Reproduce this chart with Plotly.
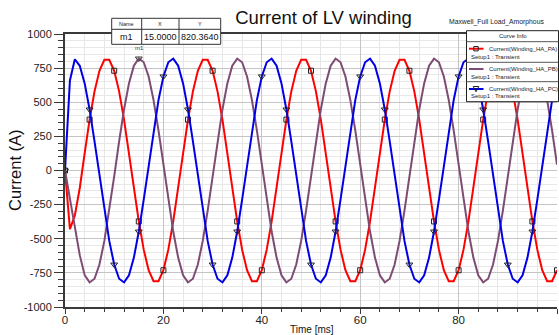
import plotly.graph_objects as go

# ---------------- data ----------------
time_ms = list(range(0, 101))  # 1 ms time step

current_pa = [
    0, -430, -330, -128, 128, 373, 580, 731, 811, 811, 731, 580, 373, 128, -128, -373, -580, -731, -811, -811,
    -731, -580, -373, -128, 128, 373, 580, 731, 811, 811, 731, 580, 373, 128, -128, -373, -580, -731, -811, -811,
    -731, -580, -373, -128, 128, 373, 580, 731, 811, 811, 731, 580, 373, 128, -128, -373, -580, -731, -811, -811,
    -731, -580, -373, -128, 128, 373, 580, 731, 811, 811, 731, 580, 373, 128, -128, -373, -580, -731, -811, -811,
    -731, -580, -373, -128, 128, 373, 580, 731, 811, 811, 731, 580, 373, 128, -128, -373, -580, -731, -811, -811,
    -731,
]

current_pb = [
    0, -200, -430, -620, -767, -820, -793, -689, -516, -294, -43, 213, 447, 638, 767, 820.364, 793, 689, 516, 294,
    43, -213, -447, -638, -767, -820, -793, -689, -516, -294, -43, 213, 447, 638, 767, 820, 793, 689, 516, 294,
    43, -213, -447, -638, -767, -820, -793, -689, -516, -294, -43, 213, 447, 638, 767, 820, 793, 689, 516, 294,
    43, -213, -447, -638, -767, -820, -793, -689, -516, -294, -43, 213, 447, 638, 767, 820, 793, 689, 516, 294,
    43, -213, -447, -638, -767, -820, -793, -689, -516, -294, -43, 213, 447, 638, 767, 820, 793, 689, 516, 294,
    43,
]

current_pc = [
    0, 660, 815, 767, 638, 447, 213, -43, -294, -516, -689, -793, -820, -767, -638, -447, -213, 43, 294, 516,
    689, 793, 820, 767, 638, 447, 213, -43, -294, -516, -689, -793, -820, -767, -638, -447, -213, 43, 294, 516,
    689, 793, 820, 767, 638, 447, 213, -43, -294, -516, -689, -793, -820, -767, -638, -447, -213, 43, 294, 516,
    689, 793, 820, 767, 638, 447, 213, -43, -294, -516, -689, -793, -820, -767, -638, -447, -213, 43, 294, 516,
    689, 793, 820, 767, 638, 447, 213, -43, -294, -516, -689, -793, -820, -767, -638, -447, -213, 43, 294, 516,
    689,
]

curve_names = ["Current(Winding_HA_PA)", "Current(Winding_HA_PB)", "Current(Winding_HA_PC)"]
setup_label = "Setup1 : Transient"

marker_name = "m1"
marker_x = 15.0
marker_y = 820.364

x_ticks = [0, 20, 40, 60, 80, 100]
y_ticks = [-1000, -750, -500, -250, 0, 250, 500, 750, 1000]

# ---------------- styling ----------------
RED = "#ff0000"
PURPLE = "#7d4b73"
BLUE = "#0000e6"
AXIS = "#3a3a3a"
FONT = "Liberation Sans, Arial, sans-serif"
SMALL = "Liberation Sans, Arial, sans-serif"

W, H = 559, 335
ML, MR, MT, MB = 65, 2, 34, 28
PW, PH = W - ML - MR, H - MT - MB


def xp(px):
    return (px - ML) / PW


def yp(py):
    return (H - MB - py) / PH


every5_size_sq = [5 if i % 5 == 0 else 0 for i in range(len(time_ms))]
every5_size_tri = [6 if i % 5 == 0 else 0 for i in range(len(time_ms))]
every5_op = [1 if i % 5 == 0 else 0 for i in range(len(time_ms))]

fig = go.Figure()
fig.add_trace(go.Scatter(
    x=time_ms, y=current_pa, mode="lines+markers", name=curve_names[0],
    line=dict(color=RED, width=2),
    marker=dict(symbol="square-open", color="#222222", size=every5_size_sq,
                opacity=every5_op, line=dict(width=1, color="#222222")),
))
fig.add_trace(go.Scatter(
    x=time_ms, y=current_pb, mode="lines", name=curve_names[1],
    line=dict(color=PURPLE, width=2),
))
fig.add_trace(go.Scatter(
    x=time_ms, y=current_pc, mode="lines+markers", name=curve_names[2],
    line=dict(color=BLUE, width=2),
    marker=dict(symbol="triangle-down-open", color="#222222", size=every5_size_tri,
                opacity=every5_op, line=dict(width=1, color="#222222")),
))
fig.add_trace(go.Scatter(
    x=[marker_x], y=[marker_y], mode="markers", name=marker_name,
    marker=dict(symbol="triangle-down-open", color="#333333", size=6, line=dict(width=1)),
))

shapes = []
annotations = []

# marker table
tx0, tx1, tx2, tx3 = 111.7, 141.7, 179.0, 220.7
ty0, ty1, ty2 = 18.3, 29.3, 44.3
shapes.append(dict(type="rect", xref="paper", yref="paper", x0=xp(tx0), x1=xp(tx3), y0=yp(ty2), y1=yp(ty0),
                   line=dict(color="#333333", width=1), fillcolor="white", layer="above"))
for xx in (tx1, tx2):
    shapes.append(dict(type="line", xref="paper", yref="paper", x0=xp(xx), x1=xp(xx), y0=yp(ty2), y1=yp(ty0),
                       line=dict(color="#333333", width=1), layer="above"))
shapes.append(dict(type="line", xref="paper", yref="paper", x0=xp(tx0), x1=xp(tx3), y0=yp(ty1), y1=yp(ty1),
                   line=dict(color="#333333", width=1), layer="above"))
for txt, cx in (("Name", 126.7), ("X", 160.4), ("Y", 199.8)):
    annotations.append(dict(text=txt, x=xp(cx), y=yp(24.0), xref="paper", yref="paper", showarrow=False,
                            font=dict(family=SMALL, size=5.5, color="#222222"), xanchor="center", yanchor="middle"))
for txt, cx in ((marker_name, 126.7), (f"{marker_x:.4f}", 160.4), (f"{marker_y:.4f}", 199.8)):
    annotations.append(dict(text=txt, x=xp(cx), y=yp(37.3), xref="paper", yref="paper", showarrow=False,
                            font=dict(family=FONT, size=9, color="#111111"), xanchor="center", yanchor="middle"))

# m1 label
annotations.append(dict(text=marker_name, x=marker_x, y=marker_y, xref="x", yref="y", showarrow=False,
                        yshift=11, xshift=1, font=dict(family=SMALL, size=6, color="#333333")))

# Legend (Curve Info)
lx0, lx1 = 466.5, 558.5
ly0, ly1 = 30.7, 101.7
shapes.append(dict(type="rect", xref="paper", yref="paper", x0=xp(lx0), x1=xp(lx1), y0=yp(ly1), y1=yp(ly0),
                   line=dict(color="#222222", width=1), fillcolor="white", layer="above"))
for sy in (41.7, 62.3, 81.7):
    shapes.append(dict(type="line", xref="paper", yref="paper", x0=xp(lx0), x1=xp(lx1), y0=yp(sy), y1=yp(sy),
                       line=dict(color="#555555", width=1), layer="above"))
annotations.append(dict(text="Curve Info", x=xp(513), y=yp(36.3), xref="paper", yref="paper", showarrow=False,
                        font=dict(family=SMALL, size=6, color="#222222"), xanchor="center", yanchor="middle"))
entry_y = [48.7, 69.0, 89.0]
setup_y = [56.7, 76.5, 96.0]
colors = [RED, PURPLE, BLUE]
for i in range(3):
    yy = entry_y[i]
    shapes.append(dict(type="line", xref="paper", yref="paper", x0=xp(469), x1=xp(483.5), y0=yp(yy), y1=yp(yy),
                       line=dict(color=colors[i], width=2), layer="above"))
    annotations.append(dict(text=curve_names[i], x=xp(487.0), y=yp(yy), xref="paper", yref="paper",
                            showarrow=False, xanchor="left", yanchor="middle",
                            font=dict(family=SMALL, size=6, color="#222222")))
    annotations.append(dict(text=setup_label, x=xp(468.5), y=yp(setup_y[i]), xref="paper", yref="paper",
                            showarrow=False, xanchor="left", yanchor="middle",
                            font=dict(family=SMALL, size=6, color="#222222")))
# legend symbols
shapes.append(dict(type="rect", xref="paper", yref="paper", x0=xp(473.8), x1=xp(478.2),
                   y0=yp(entry_y[0] + 2.2), y1=yp(entry_y[0] - 2.2),
                   line=dict(color="#222222", width=1), layer="above"))
ty = entry_y[2]
shapes.append(dict(type="path", xref="paper", yref="paper",
                   path=f"M {xp(473.2)},{yp(ty - 2.5)} L {xp(478.8)},{yp(ty - 2.5)} L {xp(476)},{yp(ty + 2.8)} Z",
                   line=dict(color="#222222", width=1), layer="above"))

# Title texts
annotations.append(dict(text="Maxwell_Full Load_Amorphous", x=xp(496.5), y=yp(22.3), xref="paper", yref="paper",
                        showarrow=False, xanchor="center", yanchor="middle",
                        font=dict(family=SMALL, size=6.8, color="#222222")))
annotations.append(dict(text="Current (A)", x=xp(15), y=yp(170), xref="paper", yref="paper", showarrow=False,
                        textangle=-90, xanchor="center", yanchor="middle",
                        font=dict(family=FONT, size=16.5, color="#111111")))
annotations.append(dict(text="Time [ms]", x=xp(311.7), y=yp(329), xref="paper", yref="paper", showarrow=False,
                        xanchor="center", yanchor="middle",
                        font=dict(family=FONT, size=10, color="#111111")))

fig.update_layout(
    width=W, height=H,
    margin=dict(l=ML, r=MR, t=MT, b=MB),
    paper_bgcolor="white", plot_bgcolor="white",
    showlegend=False,
    title=dict(text="Current of LV winding", x=323.5 / W, xref="container", xanchor="center",
               y=1 - 18 / H, yref="container", yanchor="middle",
               font=dict(family=FONT, size=18.5, color="#111111")),
    shapes=shapes, annotations=annotations,
    font=dict(family=FONT, color="#222222"),
)
fig.update_xaxes(
    range=[0, 100], tickvals=x_ticks, ticktext=[str(v) for v in x_ticks],
    showgrid=True, gridcolor="#c4c4c4", gridwidth=1, zeroline=False,
    showline=True, linecolor=AXIS, linewidth=2, mirror=True,
    ticks="outside", ticklen=5, tickcolor=AXIS, tickwidth=1,
    ticklabelstandoff=-4,
    tickfont=dict(family=FONT, size=11.5, color="#222222"),
    minor=dict(dtick=4, tick0=0, showgrid=True, gridcolor="#e6e6e6", ticks="outside", ticklen=3, tickcolor=AXIS),
)
fig.update_yaxes(
    range=[-1000, 1000], tickvals=y_ticks, ticktext=[str(v) for v in y_ticks],
    showgrid=True, gridcolor="#c4c4c4", gridwidth=1, zeroline=False,
    showline=True, linecolor=AXIS, linewidth=2,
    ticks="outside", ticklen=9, tickcolor=AXIS, tickwidth=1,
    tickfont=dict(family=FONT, size=11, color="#222222"),
    minor=dict(dtick=50, tick0=0, showgrid=True, gridcolor="#e8e8e8", ticks="outside", ticklen=5, tickcolor=AXIS),
)

fig.write_html("out.html", config={"displayModeBar": False},
               post_script="document.body.style.margin='0';document.body.style.overflow='hidden';")
